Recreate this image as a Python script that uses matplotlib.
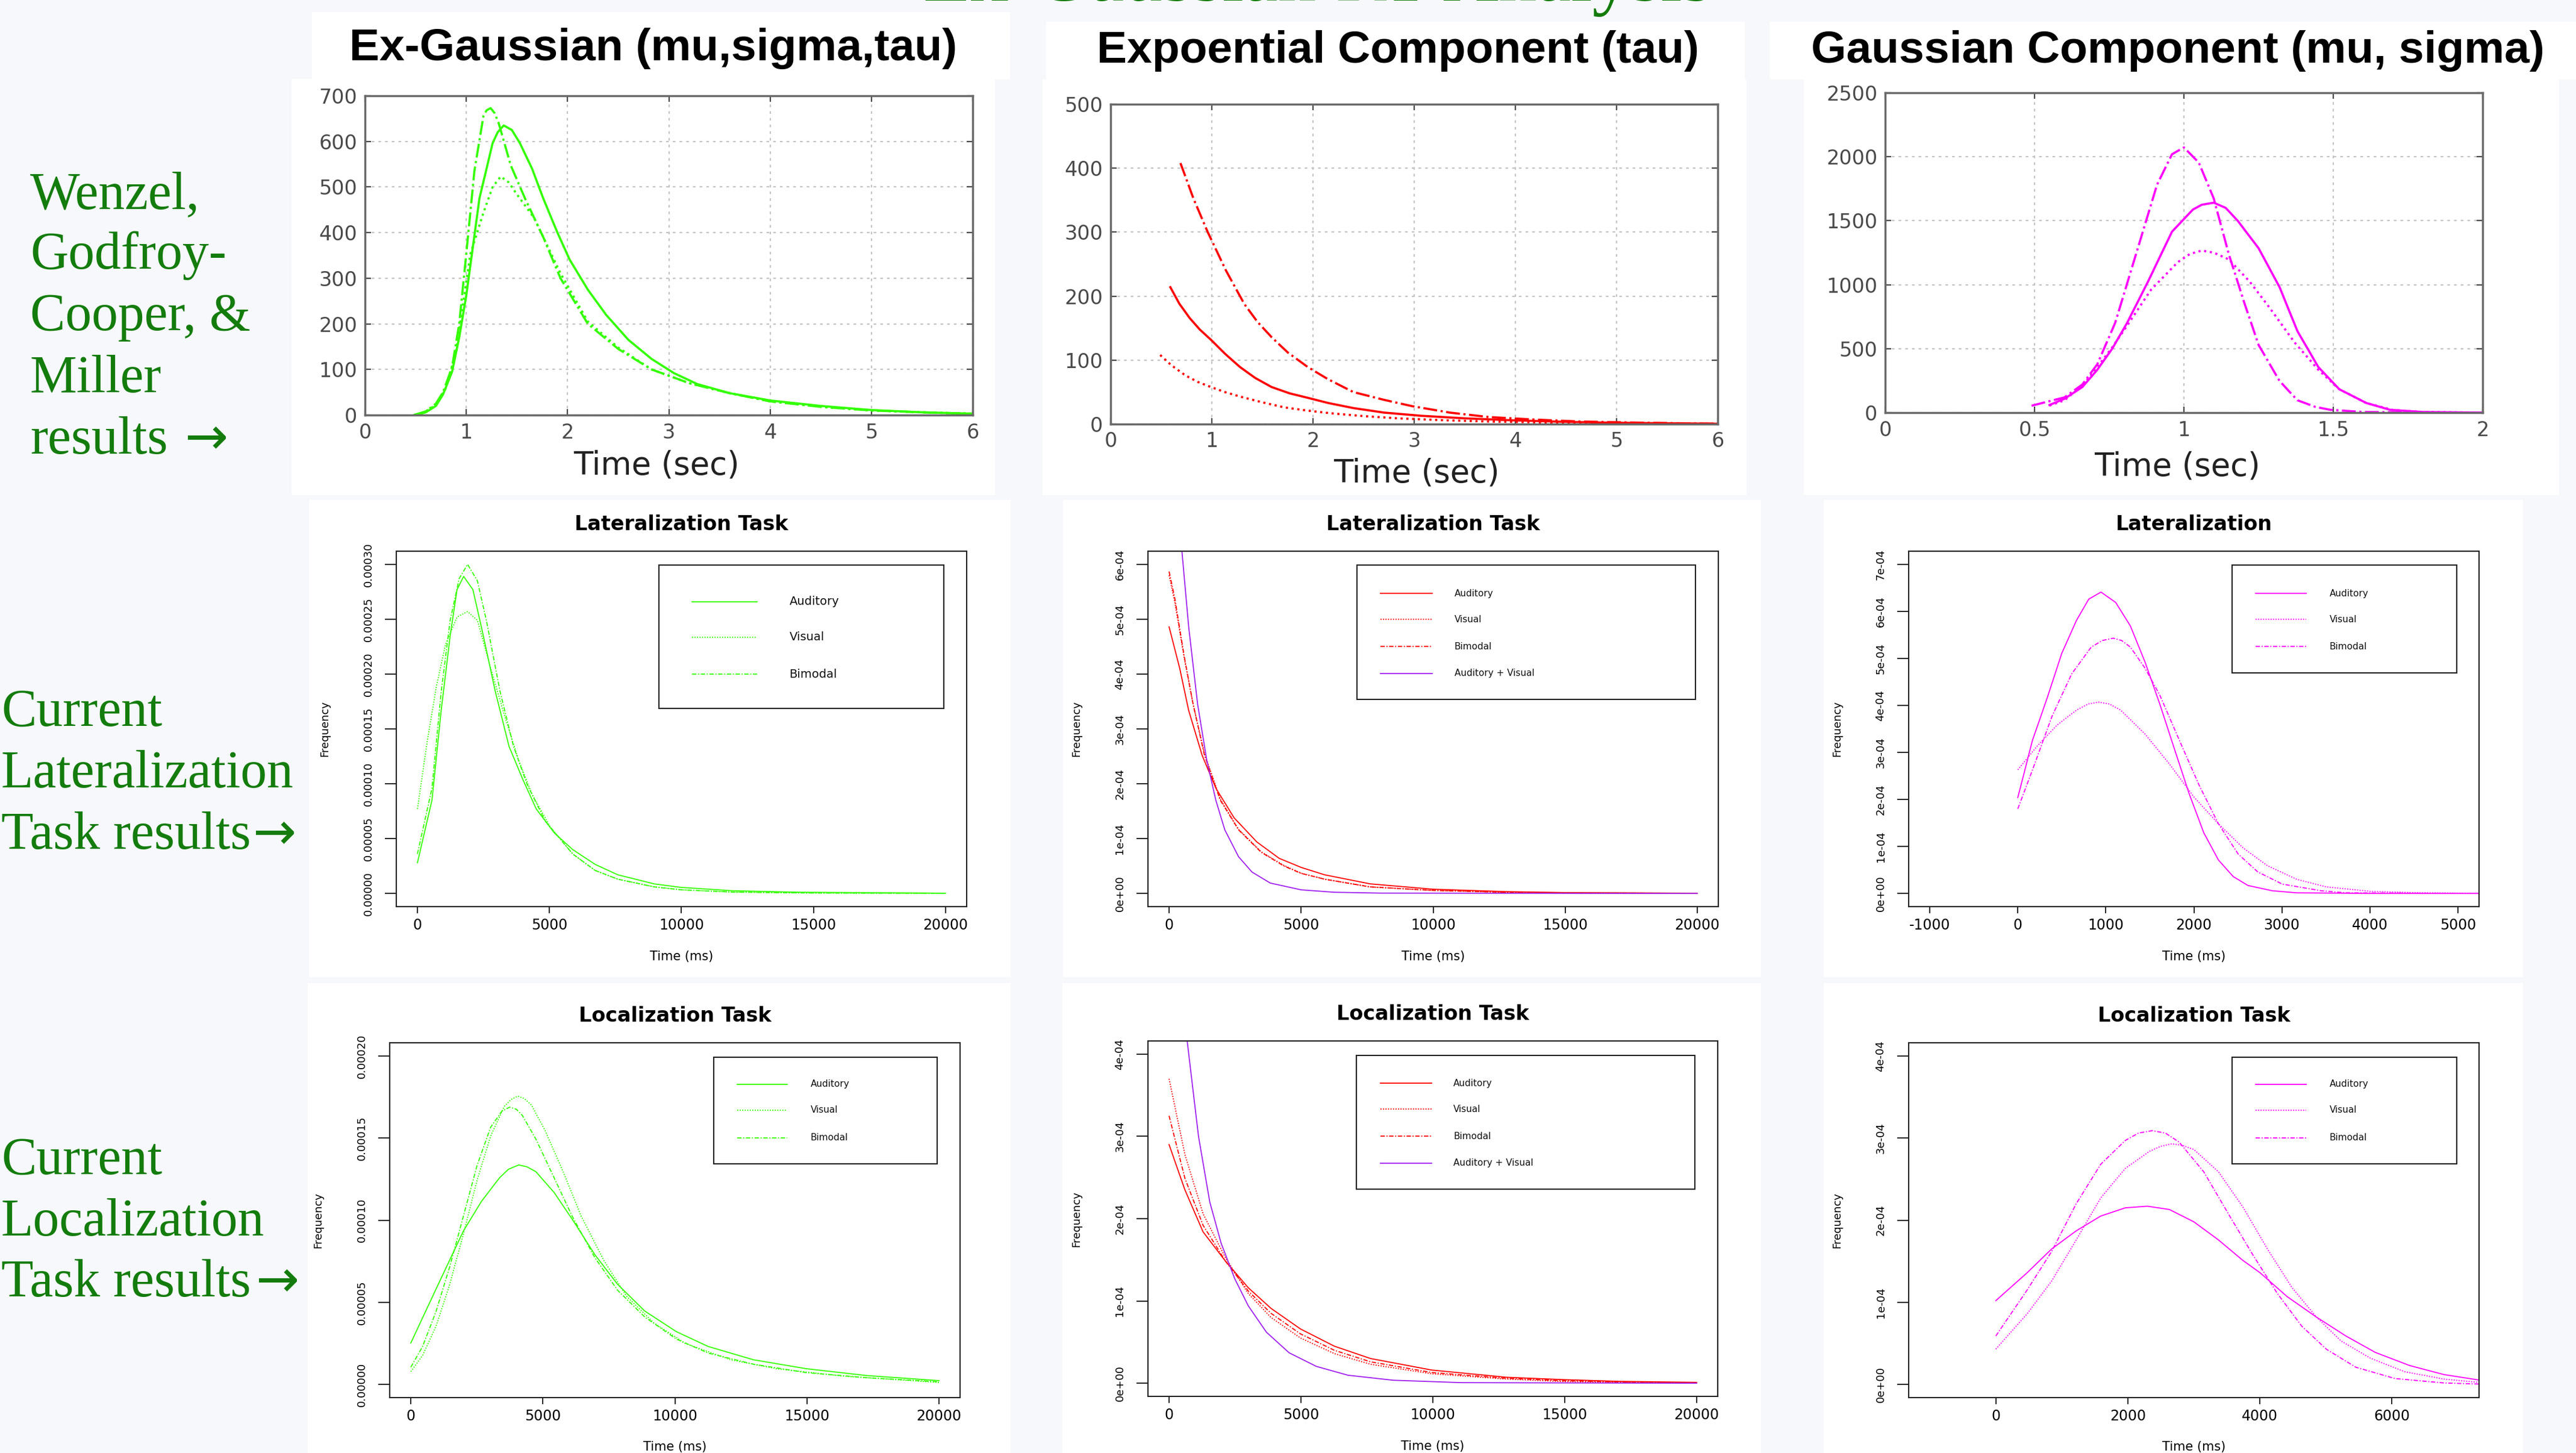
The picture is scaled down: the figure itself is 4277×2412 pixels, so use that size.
import numpy as np
import matplotlib
matplotlib.use("Agg")
import matplotlib.pyplot as plt
from matplotlib.patches import Rectangle
from matplotlib.lines import Line2D
from matplotlib.ticker import FuncFormatter

W, H = 4277, 2412
BG = "#f6f8fb"
DKGREEN = "#137c0c"
LIME, RED, MAGENTA, PURPLE = "#33ff00", "#ff0000", "#ff00ff", "#a020f0"
SOLID, DOTTED, DASHDOT = "-", (0, (1, 1.3)), (0, (4, 1.5, 1, 1.5))

# ---------------- data ----------------
# top row: Wenzel, Godfroy-Cooper & Miller (time in sec)
wgm_exg1_x = [0.48, 0.6, 0.7, 0.77, 0.86, 0.93, 1.0, 1.08, 1.17, 1.2, 1.24, 1.28, 1.32, 1.44, 1.58,
              1.76, 1.93, 2.2, 2.5, 2.83, 3.2, 3.6, 4.0, 4.5, 5.0, 5.5, 6.0]
wgm_exg1_y = [0, 8, 25, 50, 105, 200, 353, 535, 656, 668, 673, 662, 640, 547, 475,
              390, 300, 200, 145, 100, 70, 48, 30, 18, 10, 6, 3]
wgm_exg2_x = [0.5, 0.6, 0.7, 0.77, 0.86, 0.93, 1.0, 1.13, 1.26, 1.31, 1.37, 1.45, 1.53, 1.65, 1.76,
              1.9, 2.02, 2.2, 2.38, 2.6, 2.83, 3.05, 3.28, 3.6, 4.0, 4.5, 5.0, 5.5, 6.0]
wgm_exg2_y = [0, 6, 20, 45, 95, 170, 262, 475, 596, 620, 635, 625, 596, 540, 475,
              400, 341, 275, 220, 165, 123, 92, 68, 48, 32, 20, 11, 6, 3]
wgm_exg3_x = [0.5, 0.6, 0.7, 0.8, 0.9, 1.04, 1.17, 1.26, 1.34, 1.42, 1.49, 1.67, 1.93, 2.2, 2.5,
              2.83, 3.2, 3.6, 4.0, 4.5, 5.0, 5.5, 6.0]
wgm_exg3_y = [0, 8, 22, 60, 140, 353, 444, 500, 523, 510, 487, 432, 311, 205, 148,
              100, 70, 48, 30, 18, 10, 6, 3]

wgm_exp1_x = [0.69, 0.82, 0.96, 1.05, 1.14, 1.32, 1.45, 1.59, 1.75, 1.95, 2.15, 2.4, 2.7, 2.98,
              3.35, 3.74, 4.2, 4.64, 5.3, 6.0]
wgm_exp1_y = [408, 352, 300, 270, 240, 188, 160, 136, 112, 89, 70, 50, 38, 28, 18, 11, 7, 4, 2, 0.5]
wgm_exp2_x = [0.59, 0.68, 0.78, 0.88, 0.99, 1.13, 1.28, 1.43, 1.59, 1.77, 1.95, 2.15, 2.4, 2.7,
              3.07, 3.5, 3.96, 4.5, 5.0, 6.0]
wgm_exp2_y = [214, 188, 166, 148, 132, 110, 89, 72, 58, 48, 41, 33, 25, 18, 13, 9, 6, 3.5, 2, 0.5]
wgm_exp3_x = [0.49, 0.6, 0.74, 0.86, 0.99, 1.13, 1.28, 1.5, 1.72, 1.95, 2.17, 2.5, 2.84, 3.3,
              3.74, 4.3, 4.8, 6.0]
wgm_exp3_y = [108, 92, 76, 66, 58, 50, 43, 34, 26, 21, 17, 12.5, 9, 6, 4, 2.5, 1.5, 0.5]

wgm_gau1_x = [0.49, 0.55, 0.6, 0.66, 0.71, 0.77, 0.84, 0.91, 0.96, 1.0, 1.05, 1.1, 1.15, 1.2,
              1.25, 1.32, 1.38, 1.44, 1.49, 1.6, 1.8, 2.0]
wgm_gau1_y = [54, 90, 119, 220, 378, 702, 1241, 1781, 2019, 2073, 1954, 1673, 1241, 874,
              529, 248, 97, 45, 22, 5, 1, 0]
wgm_gau2_x = [0.55, 0.6, 0.66, 0.71, 0.76, 0.81, 0.88, 0.96, 1.03, 1.06, 1.1, 1.14, 1.18, 1.25,
              1.32, 1.38, 1.45, 1.52, 1.61, 1.69, 1.8, 2.0]
wgm_gau2_y = [60, 108, 200, 335, 500, 702, 1025, 1414, 1587, 1625, 1641, 1600, 1500, 1285,
              982, 637, 356, 183, 76, 22, 5, 0]
wgm_gau3_x = [0.55, 0.6, 0.66, 0.71, 0.76, 0.81, 0.89, 0.98, 1.02, 1.06, 1.1, 1.15, 1.22, 1.29,
              1.37, 1.45, 1.52, 1.61, 1.7, 1.8, 2.0]
wgm_gau3_y = [55, 97, 210, 356, 510, 680, 961, 1177, 1240, 1267, 1250, 1198, 1025, 810,
              550, 335, 183, 76, 20, 5, 0]

# middle row: lateralization task (time in ms)
lat_exg_aud_x = [0, 550, 900, 1240, 1500, 1750, 2100, 2440, 2950, 3470, 3990, 4500, 5190, 5880,
                 6730, 7590, 8970, 10000, 11900, 14460, 20000]
lat_exg_aud_y = np.array([0.28, 0.85, 1.67, 2.35, 2.77, 2.89, 2.77, 2.41, 1.84, 1.34, 1.04, 0.77,
                          0.55, 0.40, 0.265, 0.17, 0.087, 0.055, 0.025, 0.011, 0.002]) * 1e-4
lat_exg_vis_x = [0, 380, 720, 1065, 1500, 1900, 2270, 2780, 3300, 3810, 4330, 5020, 5880, 6730,
                 7590, 8970, 10000, 12000, 15000, 20000]
lat_exg_vis_y = np.array([0.77, 1.40, 1.89, 2.27, 2.52, 2.57, 2.49, 2.05, 1.62, 1.23, 0.91, 0.61,
                          0.36, 0.21, 0.13, 0.06, 0.033, 0.012, 0.004, 0.001]) * 1e-4
lat_exg_bim_x = [0, 550, 900, 1240, 1580, 1900, 2270, 2610, 3130, 3640, 4160, 4840, 5880, 6730,
                 7590, 8970, 10000, 12000, 15000, 20000]
lat_exg_bim_y = np.array([0.36, 0.96, 1.84, 2.49, 2.87, 3.00, 2.85, 2.49, 1.84, 1.34, 0.99, 0.66,
                          0.36, 0.21, 0.13, 0.06, 0.033, 0.012, 0.004, 0.001]) * 1e-4

lat_exp_aud_x = [0, 400, 740, 1250, 1770, 2460, 3320, 4170, 5000, 5890, 7610, 10000, 12770, 15000, 20000]
lat_exp_aud_y = np.array([4.86, 4.11, 3.34, 2.52, 1.92, 1.38, 0.94, 0.64, 0.475, 0.34, 0.175,
                          0.077, 0.033, 0.015, 0.003]) * 1e-4
lat_exp_vis_x = [0, 220, 570, 910, 1340, 1940, 2630, 3490, 4350, 5000, 5890, 7610, 10000, 12770, 15000, 20000]
lat_exp_vis_y = np.array([5.80, 5.30, 4.30, 3.45, 2.55, 1.72, 1.17, 0.76, 0.51, 0.37, 0.26, 0.12,
                          0.055, 0.02, 0.008, 0.001]) * 1e-4
lat_exp_bim_x = [0, 220, 570, 910, 1340, 1940, 2630, 3490, 4350, 5000, 5890, 7610, 10000, 12770, 15000, 20000]
lat_exp_bim_y = np.array([5.87, 5.37, 4.33, 3.45, 2.52, 1.70, 1.16, 0.75, 0.50, 0.366, 0.26, 0.12,
                          0.055, 0.02, 0.008, 0.001]) * 1e-4
lat_exp_av_x = [400, 740, 1080, 1430, 1770, 2110, 2630, 3140, 3830, 5000, 6250, 8000, 20000]
lat_exp_av_y = np.array([6.7, 4.87, 3.45, 2.42, 1.70, 1.16, 0.67, 0.39, 0.19, 0.066, 0.022,
                         0.006, 0.0]) * 1e-4

lat_gau_aud_x = [0, 167, 334, 500, 667, 806, 945, 1112, 1279, 1446, 1613, 1780, 1947, 2113, 2280,
                 2447, 2614, 2892, 3170, 4000, 5240]
lat_gau_aud_y = np.array([2.04, 3.26, 4.16, 5.11, 5.81, 6.26, 6.41, 6.19, 5.69, 4.92, 4.03, 3.07,
                          2.12, 1.29, 0.71, 0.36, 0.17, 0.057, 0.013, 0.001, 0.0]) * 1e-4
lat_gau_vis_x = [0, 222, 445, 667, 800, 918, 1040, 1168, 1446, 1724, 2002, 2280, 2559, 2836, 3170,
                 3504, 4004, 4560, 5240]
lat_gau_vis_y = np.array([2.63, 3.14, 3.58, 3.90, 4.03, 4.07, 4.03, 3.90, 3.39, 2.75, 2.05, 1.48,
                          0.97, 0.59, 0.30, 0.14, 0.045, 0.013, 0.003]) * 1e-4
lat_gau_bim_x = [0, 167, 389, 612, 834, 960, 1085, 1180, 1279, 1446, 1613, 1835, 2058, 2280, 2503,
                 2725, 3003, 3448, 3726, 5240]
lat_gau_bim_y = np.array([1.80, 2.63, 3.77, 4.67, 5.24, 5.38, 5.43, 5.38, 5.24, 4.79, 4.22, 3.26,
                          2.31, 1.48, 0.84, 0.46, 0.20, 0.057, 0.013, 0.0]) * 1e-4

# bottom row: localization task (time in ms)
loc_exg_aud_x = [0, 618, 1305, 1991, 2678, 3365, 3700, 4086, 4400, 4738, 5425, 6112, 6970, 7828,
                 8858, 10060, 11262, 12979, 14970, 17270, 20000]
loc_exg_aud_y = np.array([2.52, 4.65, 7.0, 9.34, 11.15, 12.59, 13.1, 13.36, 13.25, 12.95, 11.69,
                          10.06, 7.90, 6.10, 4.47, 3.21, 2.31, 1.50, 0.96, 0.54, 0.23]) * 1e-5
loc_exg_vis_x = [0, 446, 961, 1476, 1991, 2506, 3021, 3537, 3800, 4052, 4300, 4567, 5082, 5769,
                 6455, 7313, 8171, 9201, 10403, 12120, 13837, 16412, 20000]
loc_exg_vis_y = np.array([0.78, 1.77, 3.57, 6.10, 9.16, 12.41, 15.11, 16.92, 17.35, 17.55, 17.4,
                          17.01, 15.47, 12.95, 10.24, 7.54, 5.37, 3.75, 2.49, 1.50, 0.96, 0.50,
                          0.12]) * 1e-5
loc_exg_bim_x = [0, 446, 961, 1476, 1991, 2506, 3021, 3451, 3743, 4000, 4223, 4738, 5425, 6112,
                 6970, 7828, 8858, 10060, 11262, 12979, 14970, 17270, 20000]
loc_exg_bim_y = np.array([1.05, 2.31, 4.47, 7.18, 10.24, 13.31, 15.65, 16.64, 16.88, 16.75, 16.38,
                          14.93, 12.59, 10.24, 7.72, 5.74, 4.11, 2.76, 1.91, 1.23, 0.72, 0.41,
                          0.16]) * 1e-5

loc_exp_x = [0, 601, 1288, 2146, 3004, 3863, 4979, 6266, 7639, 9957, 12790, 14970, 17082, 20000]
loc_exp_aud_y = np.array([2.90, 2.35, 1.84, 1.48, 1.16, 0.91, 0.66, 0.45, 0.30, 0.16, 0.072,
                          0.043, 0.022, 0.01]) * 1e-4
loc_exp_vis_y = np.array([3.70, 2.78, 2.06, 1.52, 1.09, 0.80, 0.55, 0.36, 0.23, 0.115, 0.05,
                          0.02, 0.01, 0.003]) * 1e-4
loc_exp_bim_y = np.array([3.25, 2.49, 1.92, 1.48, 1.12, 0.85, 0.60, 0.40, 0.26, 0.13, 0.06,
                          0.03, 0.015, 0.005]) * 1e-4
loc_exp_av_x = [687, 1116, 1545, 1975, 2490, 3004, 3691, 4550, 5579, 6781, 8498, 11073, 20000]
loc_exp_av_y = np.array([4.16, 3.0, 2.20, 1.70, 1.27, 0.94, 0.62, 0.37, 0.205, 0.097, 0.036,
                         0.007, 0.0]) * 1e-4

loc_gau_aud_x = [0, 475, 847, 1218, 1589, 1961, 2295, 2629, 3000, 3372, 3743, 4003, 4412, 4857,
                 5303, 5749, 6269, 6789, 7315]
loc_gau_aud_y = np.array([1.02, 1.36, 1.65, 1.87, 2.05, 2.15, 2.17, 2.13, 1.98, 1.76, 1.51, 1.36,
                          1.07, 0.82, 0.59, 0.39, 0.23, 0.12, 0.054]) * 1e-4
loc_gau_vis_x = [0, 475, 847, 1218, 1589, 1961, 2332, 2500, 2666, 2830, 3000, 3372, 3743, 4114,
                 4486, 4857, 5229, 5674, 6194, 6789, 7315]
loc_gau_vis_y = np.array([0.43, 0.86, 1.26, 1.76, 2.27, 2.63, 2.84, 2.90, 2.93, 2.91, 2.86, 2.59,
                          2.16, 1.65, 1.18, 0.82, 0.53, 0.32, 0.155, 0.065, 0.025]) * 1e-4
loc_gau_bim_x = [0, 475, 847, 1218, 1589, 1961, 2160, 2370, 2570, 2778, 3149, 3521, 3892, 4263,
                 4634, 5006, 5452, 6046, 6789, 7315]
loc_gau_bim_y = np.array([0.59, 1.15, 1.62, 2.20, 2.68, 2.97, 3.06, 3.09, 3.06, 2.95, 2.59, 2.08,
                          1.58, 1.11, 0.71, 0.43, 0.21, 0.072, 0.018, 0.005]) * 1e-4

headers = ["Ex-Gaussian (mu,sigma,tau)", "Expoential Component (tau)", "Gaussian Component (mu, sigma)"]
row_notes = [["Wenzel,", "Godfroy-", "Cooper, &", "Miller", "results"],
             ["Current", "Lateralization", "Task results"],
             ["Current", "Localization", "Task results"]]

# ---------------- drawing ----------------
fig = plt.figure(figsize=(W / 100, H / 100), dpi=100, facecolor=BG)


def frac(l, t, r, b):
    return [l / W, 1 - b / H, (r - l) / W, (b - t) / H]


def white(l, t, r, b):
    fig.add_artist(Rectangle((l / W, 1 - b / H), (r - l) / W, (b - t) / H,
                             transform=fig.transFigure, facecolor="white",
                             edgecolor="none", zorder=-1))


def ftext(x, y, s, **kw):
    fig.text(x / W, 1 - y / H, s, **kw)


# white backgrounds of the pasted images
for box in [(518, 20, 1677, 132), (1737, 36, 2897, 132), (2938, 36, 4277, 132),
            (484, 131, 1652, 822), (1731, 132, 2900, 822), (2995, 132, 4249, 822),
            (513, 830, 1678, 1622), (1765, 830, 2924, 1622), (3028, 830, 4189, 1622),
            (511, 1632, 1678, 2412), (1764, 1632, 2924, 2412), (3028, 1632, 4189, 2412)]:
    white(*box)

# slide title, mostly cut off at the top
ftext(2188, 1, "Ex-Gaussian RT Analysis", fontsize=92, color=DKGREEN, ha="center",
      va="baseline", family=["Liberation Serif", "DejaVu Serif"])

# column headers
for xc, yb, s in zip([1085, 2321, 3616], [100, 104, 104], headers):
    ftext(xc, yb, s, fontsize=54, fontweight="bold", ha="center", va="baseline",
          family=["Liberation Sans", "DejaVu Sans"], color="black")

# green row notes on the left, each ending in a big arrow
for lines, x0, bases, arrow_x in zip(row_notes, [50, 2, 2],
                                     [[346, 446, 548, 651, 753], [1205, 1307, 1409], [1949, 2051, 2152]],
                                     [306, 419, 424]):
    for s, yb in zip(lines, bases):
        ftext(x0, yb, s, fontsize=63, color=DKGREEN, ha="left", va="baseline",
              family=["Liberation Serif", "DejaVu Serif"])
    ftext(arrow_x, bases[-1], "\u2192", fontsize=62, color=DKGREEN, ha="left", va="baseline",
          family=["DejaVu Sans"])


def matlab_panel(rect, xlim, ylim, xticks, yticks, curves, color, lab_xy):
    ax = fig.add_axes(frac(*rect))
    for (x, y), ls in zip(curves, ["-.", "-", ":"]):
        ax.plot(x, y, color=color, linestyle=ls, linewidth=2.6)
    ax.set_xlim(xlim)
    ax.set_ylim(ylim)
    ax.set_xticks(xticks)
    ax.set_yticks(yticks)
    fmt = FuncFormatter(lambda v, p: "%g" % v)
    ax.xaxis.set_major_formatter(fmt)
    ax.yaxis.set_major_formatter(fmt)
    ax.grid(True, color="#c4c4c4", linestyle=(0, (2, 3)), linewidth=1.6)
    ax.set_axisbelow(True)
    ax.tick_params(direction="in", length=7, width=1.6, top=True, right=True,
                   labelsize=24, colors="#4a4a4a", pad=9)
    for s in ax.spines.values():
        s.set_color("#6a6a6a")
        s.set_linewidth(2.5)
    ax.text(lab_xy[0], lab_xy[1], "Time (sec)", transform=ax.transAxes, fontsize=38,
            color="#222222", ha="center", va="center")
    return ax


matlab_panel((606, 159, 1615, 689), (0, 6), (0, 700), range(0, 7), range(0, 701, 100),
             [(wgm_exg1_x, wgm_exg1_y), (wgm_exg2_x, wgm_exg2_y), (wgm_exg3_x, wgm_exg3_y)],
             LIME, (0.48, -0.158))
matlab_panel((1844, 173, 2852, 704), (0, 6), (0, 500), range(0, 7), range(0, 501, 100),
             [(wgm_exp1_x, wgm_exp1_y), (wgm_exp2_x, wgm_exp2_y), (wgm_exp3_x, wgm_exp3_y)],
             RED, (0.504, -0.154))
matlab_panel((3130, 154, 4122, 685), (0, 2), (0, 2500), [0, 0.5, 1, 1.5, 2], range(0, 2501, 500),
             [(wgm_gau1_x, wgm_gau1_y), (wgm_gau2_x, wgm_gau2_y), (wgm_gau3_x, wgm_gau3_y)],
             MAGENTA, (0.489, -0.169))

fmt5 = lambda v, p: "%.5f" % v
fmtsci = lambda v, p: "%.0e" % v


def r_panel(rect, title, xlim, ymax, ystep, xticks, yfmt, curves, leg):
    ax = fig.add_axes(frac(*rect))
    for x, y, color, ls, lab in curves:
        ax.plot(x, y, color=color, linestyle=ls, linewidth=1.3)
    ax.set_xlim(xlim)
    ax.set_ylim(-0.04 * ymax, 1.04 * ymax)
    ax.set_xticks(xticks)
    ax.set_yticks(np.arange(0, ymax + ystep / 2, ystep))
    ax.xaxis.set_major_formatter(FuncFormatter(lambda v, p: "%d" % v))
    ax.yaxis.set_major_formatter(FuncFormatter(yfmt))
    ax.tick_params(axis="x", direction="out", length=8, width=1.2, labelsize=17, pad=6, colors="black")
    ax.tick_params(axis="y", direction="out", length=14, width=1.2, labelsize=13, pad=13,
                   labelrotation=90, colors="black")
    for lab in ax.get_yticklabels():
        lab.set_va("center")
    for s in ax.spines.values():
        s.set_color("#222222")
        s.set_linewidth(1.5)
    ax.set_title(title, fontsize=24, fontweight="bold", pad=25)
    ax.text(-0.125, 0.5, "Frequency", transform=ax.transAxes, rotation=90, fontsize=13,
            ha="center", va="center")
    ax.text(0.5, -0.14, "Time (ms)", transform=ax.transAxes, fontsize=15,
            ha="center", va="center")
    # hand placed legend box, as in the R output
    (bx0, by0, bx1, by1), (lx0, lx1), tx, rows, fs = leg
    ax.add_patch(Rectangle((bx0, by0), bx1 - bx0, by1 - by0, transform=ax.transAxes,
                           facecolor="white", edgecolor="#222222", linewidth=1.5, zorder=5))
    for (x, y, color, ls, lab), ry in zip(curves, rows):
        ax.add_line(Line2D([lx0, lx1], [ry, ry], transform=ax.transAxes, color=color,
                           linestyle=ls, linewidth=1.3, zorder=6))
        ax.text(tx, ry, lab, transform=ax.transAxes, fontsize=fs, ha="left", va="center",
                color="#111111", zorder=6)
    return ax


r_panel((658, 915, 1605, 1505), "Lateralization Task", (-800, 20800), 3e-4, 5e-5,
        range(0, 20001, 5000), fmt5,
        [(lat_exg_aud_x, lat_exg_aud_y, LIME, SOLID, "Auditory"),
         (lat_exg_vis_x, lat_exg_vis_y, LIME, DOTTED, "Visual"),
         (lat_exg_bim_x, lat_exg_bim_y, LIME, DASHDOT, "Bimodal")],
        ((0.460, 0.558, 0.960, 0.961), (0.518, 0.633), 0.689, [0.858, 0.758, 0.654], 14))

r_panel((1906, 915, 2853, 1505), "Lateralization Task", (-800, 20800), 6e-4, 1e-4,
        range(0, 20001, 5000), fmtsci,
        [(lat_exp_aud_x, lat_exp_aud_y, RED, SOLID, "Auditory"),
         (lat_exp_vis_x, lat_exp_vis_y, RED, DOTTED, "Visual"),
         (lat_exp_bim_x, lat_exp_bim_y, RED, DASHDOT, "Bimodal"),
         (lat_exp_av_x, lat_exp_av_y, PURPLE, SOLID, "Auditory + Visual")],
        ((0.366, 0.583, 0.960, 0.961), (0.408, 0.498), 0.537, [0.881, 0.808, 0.732, 0.656], 11))

r_panel((3169, 915, 4116, 1505), "Lateralization", (-1240, 5240), 7e-4, 1e-4,
        range(-1000, 5001, 1000), fmtsci,
        [(lat_gau_aud_x, lat_gau_aud_y, MAGENTA, SOLID, "Auditory"),
         (lat_gau_vis_x, lat_gau_vis_y, MAGENTA, DOTTED, "Visual"),
         (lat_gau_bim_x, lat_gau_bim_y, MAGENTA, DASHDOT, "Bimodal")],
        ((0.567, 0.658, 0.961, 0.961), (0.608, 0.697), 0.738, [0.881, 0.808, 0.732], 11))

r_panel((647, 1731, 1594, 2320), "Localization Task", (-800, 20800), 2e-4, 5e-5,
        range(0, 20001, 5000), fmt5,
        [(loc_exg_aud_x, loc_exg_aud_y, LIME, SOLID, "Auditory"),
         (loc_exg_vis_x, loc_exg_vis_y, LIME, DOTTED, "Visual"),
         (loc_exg_bim_x, loc_exg_bim_y, LIME, DASHDOT, "Bimodal")],
        ((0.568, 0.659, 0.960, 0.959), (0.609, 0.697), 0.738, [0.883, 0.810, 0.732], 11))

r_panel((1906, 1728, 2852, 2318), "Localization Task", (-800, 20800), 4e-4, 1e-4,
        range(0, 20001, 5000), fmtsci,
        [(loc_exp_x, loc_exp_aud_y, RED, SOLID, "Auditory"),
         (loc_exp_x, loc_exp_vis_y, RED, DOTTED, "Visual"),
         (loc_exp_x, loc_exp_bim_y, RED, DASHDOT, "Bimodal"),
         (loc_exp_av_x, loc_exp_av_y, PURPLE, SOLID, "Auditory + Visual")],
        ((0.366, 0.583, 0.960, 0.959), (0.408, 0.498), 0.536, [0.881, 0.808, 0.732, 0.656], 11))

r_panel((3169, 1731, 4116, 2320), "Localization Task", (-1320, 7320), 4e-4, 1e-4,
        range(0, 6001, 2000), fmtsci,
        [(loc_gau_aud_x, loc_gau_aud_y, MAGENTA, SOLID, "Auditory"),
         (loc_gau_vis_x, loc_gau_vis_y, MAGENTA, DOTTED, "Visual"),
         (loc_gau_bim_x, loc_gau_bim_y, MAGENTA, DASHDOT, "Bimodal")],
        ((0.567, 0.659, 0.961, 0.959), (0.608, 0.697), 0.738, [0.883, 0.810, 0.732], 11))

fig.savefig("out.png", dpi=100, facecolor=BG)
